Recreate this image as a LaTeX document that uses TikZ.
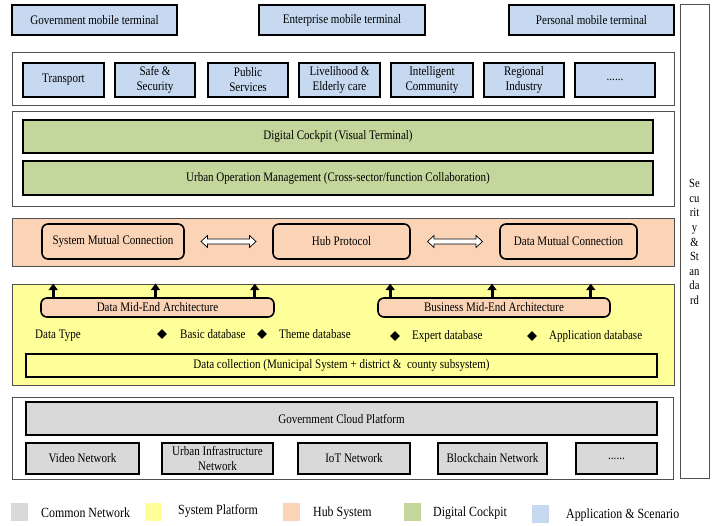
\documentclass[tikz,border=0pt]{standalone}
\usepackage{fontspec}
\setmainfont{Liberation Serif}[FakeStretch=0.85]
\usetikzlibrary{calc,arrows.meta,shapes.geometric}
\definecolor{cblue}{HTML}{C6D9F0}
\definecolor{cgreen}{HTML}{C3D69B}
\definecolor{cpeach}{HTML}{FBD4B8}
\definecolor{cyellow}{HTML}{FFFF99}
\definecolor{cgray}{HTML}{D9D9D9}
\definecolor{cedge}{HTML}{505050}
\newcommand\myfs{\fontsize{13}{15}\selectfont}
\newcommand\mylegfs{\fontsize{14}{16}\selectfont}
\tikzset{
  outerbox/.style={draw=cedge, line width=0.8pt, inner sep=0pt},
  tbox/.style={draw=black, line width=1.6pt, inner sep=1pt, align=center, font=\myfs},
  rbox/.style={tbox, rounded corners=6pt, fill=cpeach},
  uparrow/.style={line width=3pt, -{Triangle[width=9pt,length=6.5pt]}},
  dia/.style={diamond, fill=black, inner sep=0pt, minimum size=10pt},
  lab/.style={anchor=west, font=\myfs, inner sep=0pt},
  leglab/.style={anchor=west, font=\mylegfs, inner sep=0pt},
  sq/.style={fill=#1, minimum width=17pt, minimum height=18pt, inner sep=0pt},
  dblarr/.pic={\draw[line width=0.7pt, fill=white] (-27.5,0) -- (-21,6) -- (-21,2.5) -- (21,2.5) -- (21,6) -- (27.5,0) -- (21,-6) -- (21,-2.5) -- (-21,-2.5) -- (-21,-6) -- cycle;}
}
\begin{document}
\begin{tikzpicture}[x=1pt,y=-1pt]
\useasboundingbox[fill=white] (0,0) rectangle (718,526);
% security panel
\node[outerbox, draw=cedge, line width=1pt, minimum width=29pt, minimum height=474pt, align=center, font=\fontsize{12.5}{14.6}\selectfont] (sec) at (694.5,242) {Se\\cu\\rit\\y\\\&\\St\\an\\da\\rd};
% terminals
\node[tbox, fill=cblue, minimum width=165pt, minimum height=30pt] (gov) at (94.5,20) {Government mobile terminal};
\node[tbox, fill=cblue, minimum width=166pt, minimum height=30pt] (ent) at (342,20) {Enterprise mobile terminal};
\node[tbox, fill=cblue, minimum width=165pt, minimum height=30pt] (per) at (591.5,20) {Personal mobile terminal};
% applications
\node[outerbox, fill=white, minimum width=662pt, minimum height=53pt] (app) at (343,78.5) {};
\node[tbox, fill=cblue, minimum width=81pt, minimum height=34pt] (a1) at (63.5,80) {Transport};
\node[tbox, fill=cblue, minimum width=80pt, minimum height=34pt] (a2) at (155,80) {Safe \&\\Security};
\node[tbox, fill=cblue, minimum width=80pt, minimum height=34pt] (a3) at (248,80) {Public\\Services};
\node[tbox, fill=cblue, minimum width=81pt, minimum height=34pt] (a4) at (339.5,80) {Livelihood \&\\Elderly care};
\node[tbox, fill=cblue, minimum width=82pt, minimum height=34pt] (a5) at (432,80) {Intelligent\\Community};
\node[tbox, fill=cblue, minimum width=80pt, minimum height=34pt] (a6) at (524,80) {Regional\\Industry};
\node[tbox, fill=cblue, minimum width=80pt, minimum height=34pt] (a7) at (615,80) {......};
% cockpit
\node[outerbox, fill=white, minimum width=662pt, minimum height=95pt] (ck) at (343,158.5) {};
\node[tbox, fill=cgreen, minimum width=630pt, minimum height=33pt] (dc) at (338,136.5) {Digital Cockpit (Visual Terminal)};
\node[tbox, fill=cgreen, minimum width=630pt, minimum height=34pt] (uo) at (338,178) {Urban Operation Management (Cross-sector/function Collaboration)};
% hub
\node[outerbox, fill=cpeach, minimum width=662pt, minimum height=48pt] (hub) at (343,242) {};
\node[rbox, minimum width=142pt, minimum height=35pt] (sm) at (113,241.5) {System Mutual Connection};
\node[rbox, minimum width=137pt, minimum height=35pt] (hp) at (341.5,241.5) {Hub Protocol};
\node[rbox, minimum width=137pt, minimum height=35pt] (dm) at (568.5,241.5) {Data Mutual Connection};
\pic at ($(sm.east)!0.5!(hp.west)$) {dblarr};
\pic at ($(hp.east)!0.5!(dm.west)$) {dblarr};
% system platform
\node[outerbox, fill=cyellow, minimum width=662pt, minimum height=101pt] (yl) at (343,334.5) {};
\node[rbox, minimum width=233pt, minimum height=19pt] (dma) at (157.5,307.5) {Data Mid-End Architecture};
\node[rbox, minimum width=232pt, minimum height=19pt] (bma) at (494,307.5) {Business Mid-End Architecture};
\foreach \n in {dma,bma}{
  \coordinate (p1) at ($(\n.north west)+(13,0)$);
  \coordinate (p2) at ($(\n.north)+(-2,0)$);
  \coordinate (p3) at ($(\n.north east)+(-20,0)$);
  \foreach \p in {p1,p2,p3}{\draw[uparrow] (\p) -- (\p |- yl.north);}
}
\node[lab] (dt) at (35,336) {Data Type};
\node[dia] (d1) at (162,334) {};
\node[lab] (t1) at (180,334) {Basic database};
\node[dia] (d2) at (262,334) {};
\node[lab] (t2) at (279,334) {Theme database};
\node[dia] (d3) at (395,336) {};
\node[lab] (t3) at (412,336) {Expert database};
\node[dia] (d4) at (532,336) {};
\node[lab] (t4) at (549,336) {Application database};
\node[tbox, fill=cyellow, minimum width=631pt, minimum height=23pt] (dcol) at (341.5,365.5) {Data collection (Municipal System + district \&~ county subsystem)};
% common network
\node[outerbox, fill=white, minimum width=661pt, minimum height=82pt] (cn) at (342.5,438) {};
\node[tbox, fill=cgray, minimum width=631pt, minimum height=33pt] (gc) at (341.5,418.5) {Government Cloud Platform};
\node[tbox, fill=cgray, minimum width=113pt, minimum height=31pt] (n1) at (82.5,458.5) {Video Network};
\node[tbox, fill=cgray, minimum width=111pt, minimum height=31pt] (n2) at (217.5,458.5) {Urban Infrastructure\\Network};
\node[tbox, fill=cgray, minimum width=112pt, minimum height=31pt] (n3) at (354,458.5) {IoT Network};
\node[tbox, fill=cgray, minimum width=109pt, minimum height=31pt] (n4) at (492.5,458.5) {Blockchain Network};
\node[tbox, fill=cgray, minimum width=81pt, minimum height=31pt] (n5) at (616.5,458.5) {......};
% legend
\node[sq=cgray] (l1) at (19,512) {};
\node[leglab] (lt1) at (41,513) {Common Network};
\node[sq=cyellow] (l2) at (153,512) {};
\node[leglab] (lt2) at (178,511) {System Platform};
\node[sq=cpeach] (l3) at (291.5,512) {};
\node[leglab] (lt3) at (313,513) {Hub System};
\node[sq=cgreen] (l4) at (412,512) {};
\node[leglab] (lt4) at (433,513) {Digital Cockpit};
\node[sq=cblue] (l5) at (540.5,514) {};
\node[leglab] (lt5) at (566,515) {Application \& Scenario};
\end{tikzpicture}
\end{document}
